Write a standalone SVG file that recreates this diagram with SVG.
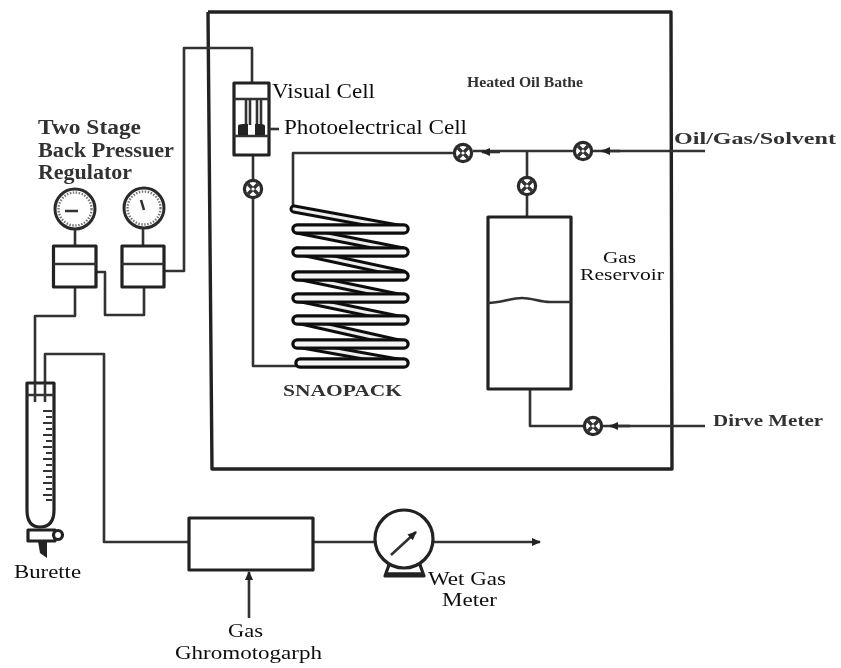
<svg xmlns="http://www.w3.org/2000/svg" xmlns:xlink="http://www.w3.org/1999/xlink" width="841" height="668" viewBox="0 0 841 668">
<style>
.t{font-family:"Liberation Serif","Times New Roman",serif;fill:#111;font-size:20px}
.g{fill:#333;font-weight:bold}
.p{fill:none;stroke:#333;stroke-width:2.6;stroke-linejoin:round}
.b{fill:#fff;stroke:#222;stroke-width:3.2;stroke-linejoin:round}
.w{fill:none;stroke:#222;stroke-width:3.400;stroke-linejoin:round}
.f{fill:#222}
.co{fill:none;stroke:#111;stroke-width:9;stroke-linecap:round}
.ci{fill:none;stroke:#eee;stroke-width:3;stroke-linecap:round}
.po{fill:none;stroke:#111;stroke-width:11.500;stroke-linecap:round}
.pi{fill:none;stroke:#f4f4f4;stroke-width:5;stroke-linecap:round}
</style>
<defs>
<filter id="s" x="-2%" y="-2%" width="104%" height="104%"><feGaussianBlur stdDeviation="0.55"/></filter>
<g id="valve">
<circle r="8.6" fill="#fff" stroke="#2a2a2a" stroke-width="3.2"/>
<path d="M-5-5 5 5M5-5-5 5" stroke="#333" stroke-width="3.4"/>
<circle r="1.6" fill="#fff"/>
</g>
<marker id="ah" markerWidth="10" markerHeight="8" refX="8" refY="4" orient="auto" markerUnits="userSpaceOnUse"><path d="M0 0 9 4 0 8Z" fill="#222"/></marker>
<path id="slants" d="M294 209 403 229M297 230 403 251M297 251 403 274M297 276 403 298M297 298 403 320M297 320 403 344M297 344 403 363"/>
<path id="pills" d="M297 229H404M297 252H404M297 276H404M297 298H404M297 320H404M297 344H404M300 363H404"/>
</defs>
<rect width="841" height="668" fill="#fff"/>
<g filter="url(#s)">
<g id="connectors">
<path id="bath-wall" class="w" d="M208 12H671L672 469H212L208 12"/>
<path class="p" d="M252 83V48H184V271H165"/>
<path class="p" d="M96 272H105V315H144V287"/>
<path class="p" d="M75 287V316H35V383"/>
<path class="p" d="M45 383V354H104V542H189"/>
<path class="p" d="M313 542H376"/>
<path class="p" d="M433 542H540" marker-end="url(#ah)"/>
<path class="p" d="M249 618V572" marker-end="url(#ah)"/>
<path class="p" d="M253 155V366H405"/>
<path class="p" d="M293 206V153H463"/>
<path class="p" d="M705 151H592"/>
<path class="p" d="M620 151H602" marker-end="url(#ah)"/>
<path class="p" d="M583 151H473"/>
<path class="p" d="M500 152H482" marker-end="url(#ah)"/>
<path class="p" d="M527 151V217"/>
<path class="p" d="M530 389V426H600"/>
<path class="p" d="M705 426H602"/>
<path class="p" d="M630 426H610" marker-end="url(#ah)"/>
</g>
<g id="coil">
<use xlink:href="#slants" href="#slants" class="co"/>
<use xlink:href="#slants" href="#slants" class="ci"/>
<use xlink:href="#pills" href="#pills" class="po"/>
<use xlink:href="#pills" href="#pills" class="pi"/>
</g>
<g id="valve-visual"><use xlink:href="#valve" href="#valve" x="253" y="189"/></g>
<g id="valve-coil"><use xlink:href="#valve" href="#valve" x="463" y="153"/></g>
<g id="valve-inlet"><use xlink:href="#valve" href="#valve" x="583" y="151"/></g>
<g id="valve-reservoir"><use xlink:href="#valve" href="#valve" x="527" y="186"/></g>
<g id="valve-drive"><use xlink:href="#valve" href="#valve" x="593" y="426"/></g>
<g id="visual-cell">
<rect class="b" x="234" y="83" width="35" height="72"/>
<path class="p" d="M234 99H269M234 136H269M246 99V125M250 99V125M257 99V125M261 99V125"/>
<path class="f" d="M238 135V126Q238 124 243 124H248V135ZM255 135V124H260Q265 124 265 126V135Z"/>
<path class="p" d="M269 129H279"/>
</g>
<g id="regulator-1">
<circle cx="75" cy="209" r="20" fill="#fff" stroke="#2a2a2a" stroke-width="3"/>
<circle cx="75" cy="209" r="16.5" fill="none" stroke="#777" stroke-width="2.4" stroke-dasharray="1.5 1.5"/>
<path class="p" d="M65 211H78M75 229V246"/>
<rect class="b" x="53.500" y="246" width="42.500" height="41"/>
<path class="p" d="M53 264H96"/>
</g>
<g id="regulator-2">
<circle cx="144" cy="208" r="20" fill="#fff" stroke="#2a2a2a" stroke-width="3"/>
<circle cx="144" cy="208" r="16.500" fill="none" stroke="#777" stroke-width="2.400" stroke-dasharray="1.500 1.500"/>
<path class="p" d="M141 200 144 210M143 228V246"/>
<rect class="b" x="122" y="246" width="42" height="41"/>
<path class="p" d="M122 264H164"/>
</g>
<g id="burette">
<path class="b" d="M27 383H54V510Q54 527 40 527Q27 527 27 510Z"/>
<path class="p" d="M27 395H54M35 383V402M45 383V402"/>
<path d="M43 411H52M46 417H52M43 423H52M46 429H52M43 435H52M46 441H52M43 447H52M46 453H52M43 459H52M46 465H52M43 471H52M46 477H52M43 483H52M46 489H52M43 495H52M46 500H52" stroke="#333" stroke-width="2"/>
<rect class="b" x="28" y="530" width="27" height="11"/>
<circle class="b" cx="58" cy="535" r="4.500"/>
<path class="f" d="M38 541H47V558L40 553Z"/>
</g>
<g id="gas-chromatograph"><rect class="b" x="189" y="518" width="124" height="52"/></g>
<g id="wet-gas-meter">
<path class="b" d="M390 562 385 576H424L419 562" stroke-width="3.400"/>
<path d="M385 574H424" stroke="#222" stroke-width="3.500"/>
<circle class="b" cx="404" cy="539" r="29"/>
<path class="p" d="M391 555 416 532" marker-end="url(#ah)"/>
</g>
<g id="reservoir">
<rect class="b" x="488" y="217" width="83" height="172"/>
<path class="p" d="M488 303C500 303 512 298 522 298S540 302 550 302H571"/>
</g>
</g>
<g filter="url(#s)" id="labels">
<text class="t g" x="38" y="134" textLength="103" lengthAdjust="spacingAndGlyphs">Two Stage</text>
<text class="t g" x="38" y="157" textLength="136" lengthAdjust="spacingAndGlyphs">Back Pressuer</text>
<text class="t g" x="38" y="179" textLength="94" lengthAdjust="spacingAndGlyphs">Regulator</text>
<text class="t" x="272" y="98" textLength="103" lengthAdjust="spacingAndGlyphs">Visual Cell</text>
<text class="t" x="284" y="134" textLength="183" lengthAdjust="spacingAndGlyphs">Photoelectrical Cell</text>
<text class="t g" style="font-size:14px" x="467" y="87" textLength="116" lengthAdjust="spacingAndGlyphs">Heated Oil Bathe</text>
<text class="t g" style="font-size:16px" x="674" y="144" textLength="162" lengthAdjust="spacingAndGlyphs">Oil/Gas/Solvent</text>
<text class="t" style="font-size:16px" x="603" y="263" textLength="33" lengthAdjust="spacingAndGlyphs">Gas</text>
<text class="t" style="font-size:16px" x="580" y="280" textLength="84" lengthAdjust="spacingAndGlyphs">Reservoir</text>
<text class="t g" style="font-size:17px" x="713" y="426" textLength="110" lengthAdjust="spacingAndGlyphs">Dirve Meter</text>
<text class="t g" style="font-size:17px" x="283" y="396" textLength="119" lengthAdjust="spacingAndGlyphs">SNAOPACK</text>
<text class="t" style="font-size:19px" x="14" y="578" textLength="67" lengthAdjust="spacingAndGlyphs">Burette</text>
<text class="t" style="font-size:19px" x="228" y="637" textLength="35" lengthAdjust="spacingAndGlyphs">Gas</text>
<text class="t" style="font-size:19px" x="175" y="659" textLength="147" lengthAdjust="spacingAndGlyphs">Ghromotogarph</text>
<text class="t" style="font-size:19px" x="428" y="585" textLength="78" lengthAdjust="spacingAndGlyphs">Wet Gas</text>
<text class="t" style="font-size:19px" x="442" y="606" textLength="55" lengthAdjust="spacingAndGlyphs">Meter</text>
</g>
</svg>
